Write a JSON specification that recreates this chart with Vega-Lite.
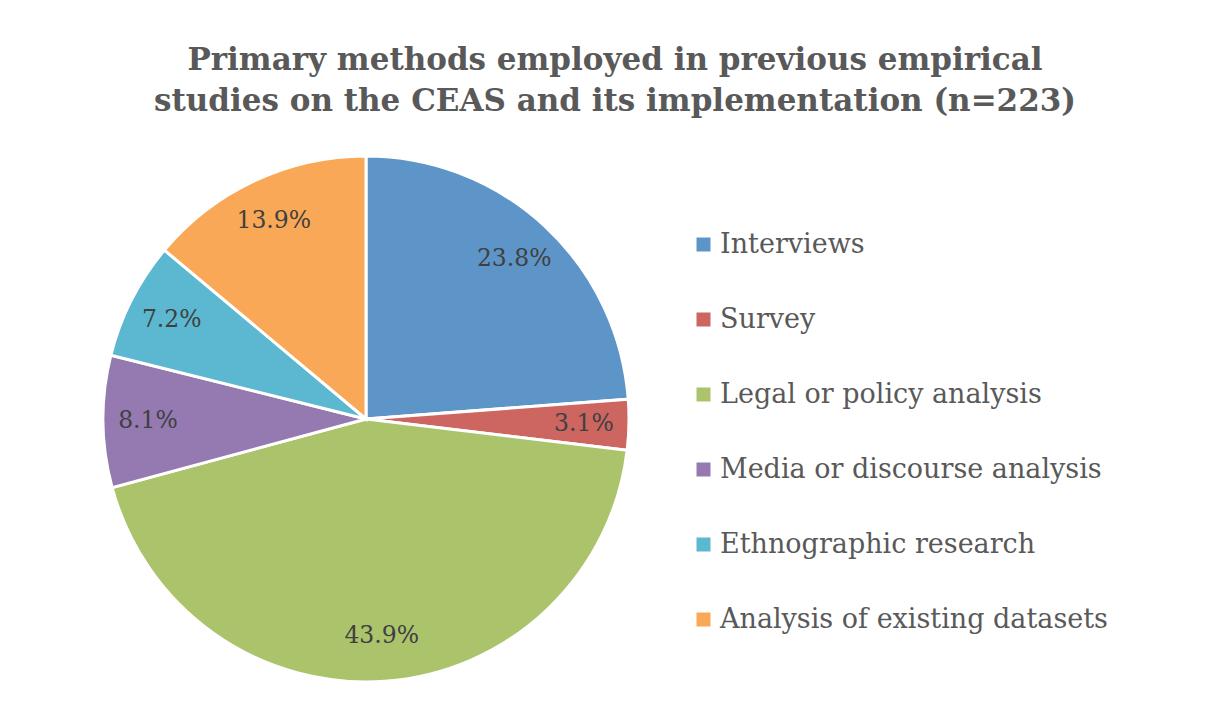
{
  "$schema": "https://vega.github.io/schema/vega-lite/v6.json",
  "autosize": {"type": "none"},
  "width": 526,
  "height": 528,
  "padding": {"left": 103, "top": 155, "right": 586, "bottom": 22},
  "background": "white",
  "title": {
    "text": ["Primary methods employed in previous empirical", "studies on the CEAS and its implementation (n=223)"],
    "font": "DejaVu Serif",
    "fontWeight": "bold",
    "fontSize": 31,
    "color": "#595959",
    "anchor": "middle",
    "dx": 249,
    "offset": 32,
    "lineHeight": 41
  },
  "data": {
    "values": [
      {"method": "Interviews", "share": 0.238, "rank": 1},
      {"method": "Survey", "share": 0.031, "rank": 2},
      {"method": "Legal or policy analysis", "share": 0.439, "rank": 3},
      {"method": "Media or discourse analysis", "share": 0.081, "rank": 4},
      {"method": "Ethnographic research", "share": 0.072, "rank": 5},
      {"method": "Analysis of existing datasets", "share": 0.139, "rank": 6}
    ]
  },
  "encoding": {
    "theta": {"field": "share", "type": "quantitative", "stack": true},
    "order": {"field": "rank", "type": "quantitative"}
  },
  "layer": [
    {
      "mark": {"type": "arc", "stroke": "white", "strokeWidth": 3},
      "encoding": {
        "color": {
          "field": "method",
          "type": "nominal",
          "sort": null,
          "scale": {
            "domain": ["Interviews", "Survey", "Legal or policy analysis", "Media or discourse analysis", "Ethnographic research", "Analysis of existing datasets"],
            "range": ["#5E95C9", "#CD6560", "#ABC46C", "#957AB1", "#5BB8D0", "#F9A857"]
          },
          "legend": {
            "title": null,
            "orient": "none",
            "legendX": 587,
            "legendY": 76,
            "padding": 0,
            "symbolType": "square",
            "symbolSize": 196,
            "symbolStrokeWidth": 0,
            "labelFont": "DejaVu Serif",
            "labelFontSize": 27,
            "labelColor": "#595959",
            "labelOffset": 3,
            "labelLimit": 500,
            "rowPadding": 47
          }
        }
      }
    },
    {
      "mark": {"type": "text", "radius": 218, "font": "DejaVu Serif", "fontSize": 23.5, "color": "#404040"},
      "encoding": {
        "text": {"field": "share", "type": "quantitative", "format": ".1%"}
      }
    }
  ]
}
